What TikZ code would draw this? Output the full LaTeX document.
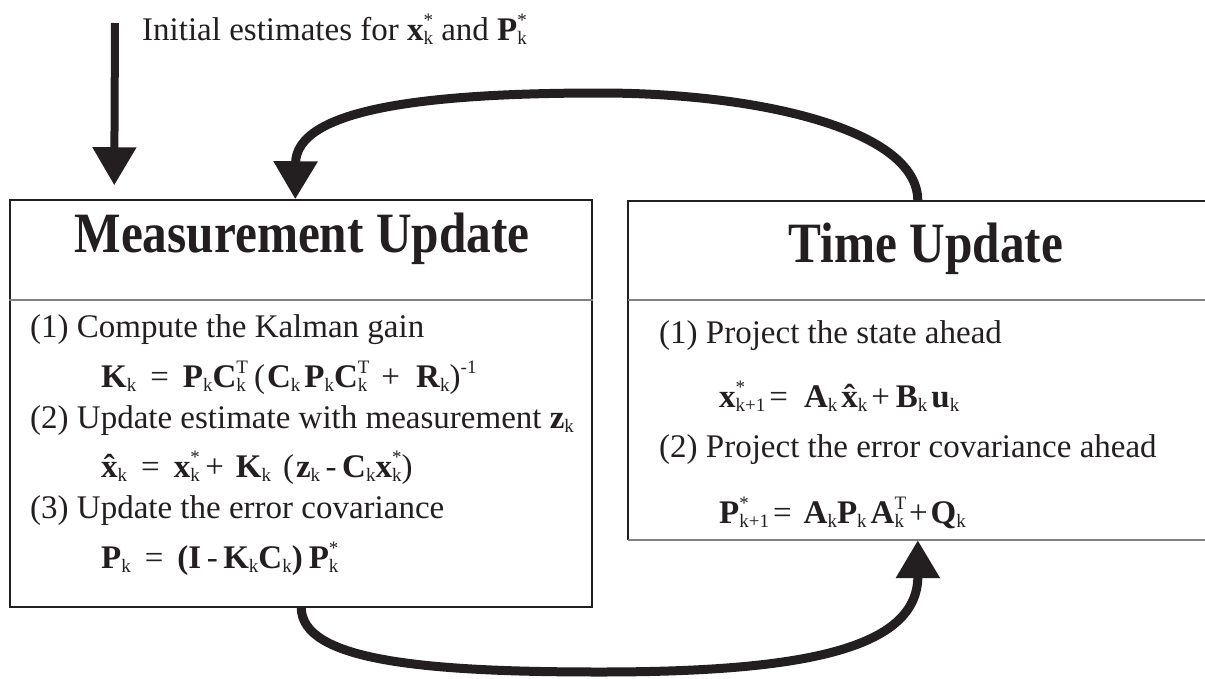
\documentclass[tikz,border=0pt]{standalone}
\usepackage{fontspec}
\setmainfont{Liberation Serif}
\usepackage{graphicx}
\usetikzlibrary{arrows.meta}
\definecolor{ink}{RGB}{35,31,32}
\definecolor{rulegray}{RGB}{128,128,128}
\newcommand{\Sb}[1]{\raisebox{-4pt}{\fontsize{19}{19}\selectfont\mdseries #1}}
\newcommand{\Sp}[1]{\raisebox{14pt}{\fontsize{19}{19}\selectfont\mdseries #1}}
\newcommand{\SbSp}[2]{\setbox0\hbox{\Sb{#1}}\setbox2\hbox{\Sp{#2}}\ifdim\wd0>\wd2\relax\rlap{\box2}\box0\relax\else\rlap{\box0}\box2\relax\fi}
\newcommand{\B}[1]{\textbf{#1}}
\newcommand{\Hs}[1]{\hspace*{#1pt}}
\newcommand{\Xh}{{\bfseries\setbox4\hbox{x}\rlap{x}\hbox to\wd4{\hss\char"02C6\hss}}}
\begin{document}
\begin{tikzpicture}[x=1pt,y=-1pt,
  txt/.style={anchor=base west,inner sep=0pt,text=ink,font=\fontsize{33}{40}\selectfont},
  ttl/.style={anchor=base,inner sep=0pt,text=ink,font=\fontsize{57}{60}\selectfont\bfseries},
  boxs/.style={draw=ink,line width=1.5pt,rectangle,inner sep=0pt},
  edge/.style={draw=ink,line width=1.5pt},
  divider/.style={draw=rulegray,line width=2pt},
  bigarrow/.style={draw=ink,line width=9pt,-{Triangle[width=42pt,length=38pt]}}]
\useasboundingbox (0,0) rectangle (1205,678);
\fill[white] (0,0) rectangle (1205,678);

% boxes
\node[boxs,minimum width=582pt,minimum height=407pt] (mbox) at (301,403.5) {};
\node[rectangle,inner sep=0pt,minimum width=590pt,minimum height=339pt] (tbox) at (923,370.5) {};
\draw[edge] (tbox.south west) -- (tbox.north west) -- (tbox.north east);
\draw[divider] (tbox.south west) -- (tbox.south east);
\draw[divider] (mbox.west |- 0,300) -- (mbox.east |- 0,300);
\draw[divider] (tbox.west |- 0,300) -- (tbox.east |- 0,300);

% top text
\node[txt] (init) at (142,40) {Initial estimates for \B{x}\SbSp{k}{*} and \B{P}\SbSp{k}{*}};
\coordinate (initStart) at (115,23);
\draw[bigarrow,line width=8pt] (initStart) -- ([xshift=105pt,yshift=14pt]mbox.north west);

% titles
\node[ttl] (mtitle) at (302,252) {\scalebox{0.865}[1]{Measurement Update}};
\node[ttl] (ttitle) at (926,262) {\scalebox{0.865}[1]{Time Update}};

% measurement body
\node[txt] (m1) at (30,337) {(1) Compute the Kalman gain};
\node[txt] (m1e) at (101,387) {\B{K}\Sb{k}\Hs{14}=\Hs{14}\B{P}\Sb{k}\B{C}\SbSp{k}{T}\Hs{6}(\Hs{2}\B{C}\Sb{k}\Hs{4}\B{P}\Sb{k}\B{C}\SbSp{k}{T}\Hs{12}+\Hs{16}\B{R}\Sb{k})\Sp{-1}};
\node[txt] (m2) at (30,428) {(2) Update estimate with measurement \B{z}\Sb{k}};
\node[txt] (m2e) at (101,477) {\Xh\Sb{k}\Hs{14}=\Hs{14}\B{x}\SbSp{k}{*}\,+\Hs{12}\B{K}\Sb{k}\Hs{12}(\Hs{2}\B{z}\Sb{k}\,-\,\B{C}\Sb{k}\B{x}\SbSp{k}{*})};
\node[txt] (m3) at (30,518) {(3) Update the error covariance};
\node[txt] (m3e) at (101,568) {\B{P}\Sb{k}\Hs{14}=\Hs{14}\B{(I}\,-\,\B{K}\Sb{k}\B{C}\Sb{k}\B{)}\Hs{6}\B{P}\SbSp{k}{*}};

% time body
\node[txt] (t1) at (659,343) {(1) Project the state ahead};
\node[txt] (t1e) at (719,407) {\B{x}\SbSp{k+1}{*}\Hs{4}=\Hs{16}\B{A}\Sb{k}\Hs{4}\Xh\Sb{k}\Hs{4}+\Hs{6}\B{B}\Sb{k}\Hs{4}\B{u}\Sb{k}};
\node[txt] (t2) at (659,457) {(2) Project the error covariance ahead};
\node[txt] (t2e) at (719,523) {\B{P}\SbSp{k+1}{*}\Hs{4}=\Hs{12}\B{A}\Sb{k}\B{P}\Sb{k}\Hs{4}\B{A}\SbSp{k}{T}\Hs{3}+\Hs{3}\B{Q}\Sb{k}};

% loop arrows
\draw[bigarrow] ([xshift=290pt]tbox.north west)
  .. controls (918,130) and (760,93) .. (600,93)
  .. controls (420,93) and (296,110) .. ([xshift=286pt]mbox.north west);
\draw[bigarrow] ([xshift=292pt]mbox.south west)
  .. controls (302,660) and (420,672) .. (600,672)
  .. controls (800,672) and (918,650) .. ([xshift=290pt]tbox.south west);
\end{tikzpicture}
\end{document}
